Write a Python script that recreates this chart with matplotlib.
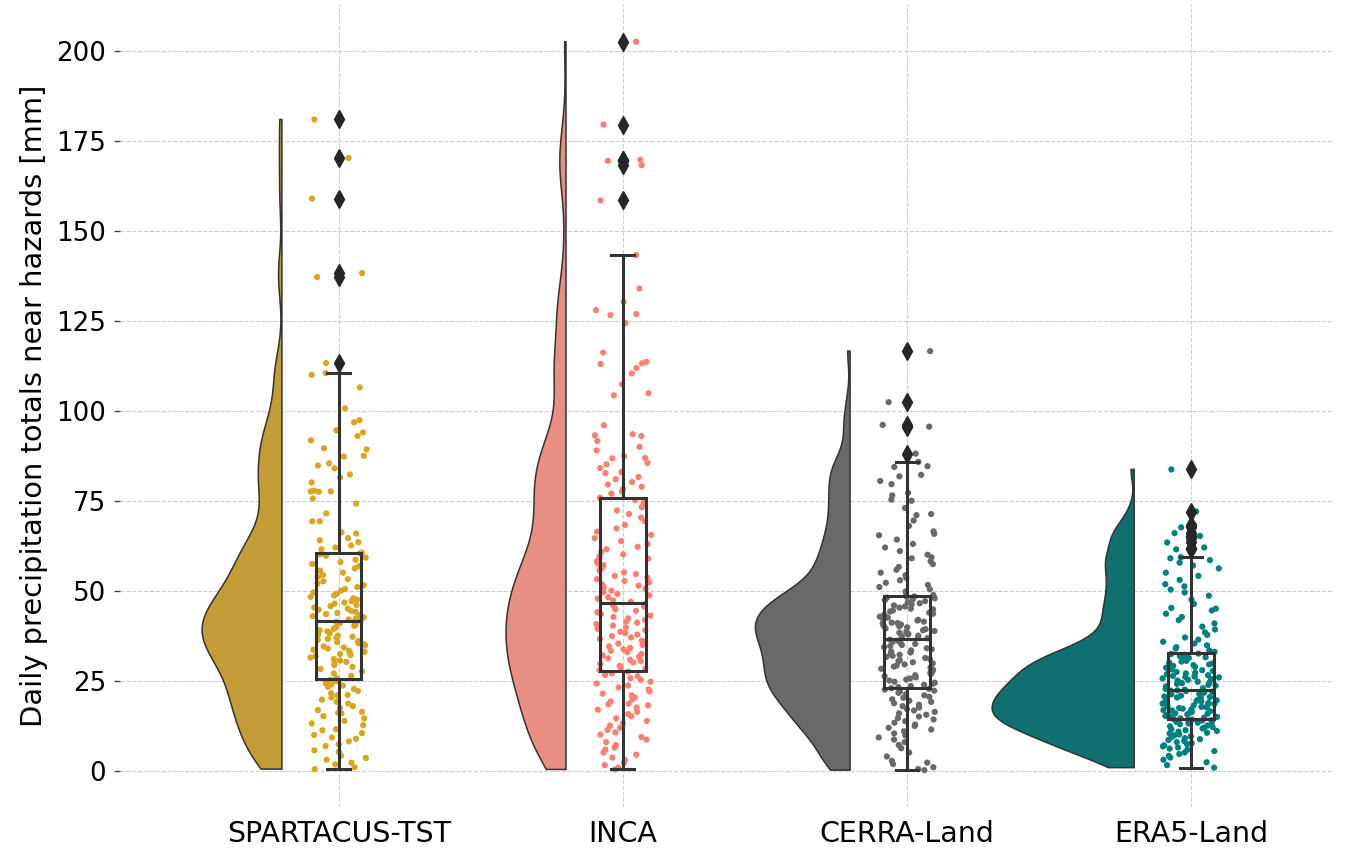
import numpy as np
import matplotlib
matplotlib.use("Agg")
import matplotlib.pyplot as plt
import seaborn as sns
import pandas as pd

categories = ["SPARTACUS-TST", "INCA", "CERRA-Land", "ERA5-Land"]

spartacus = [
    0.4, 0.9, 1.7, 2.2, 3.5, 4.1, 5.2, 5.6, 6.8, 7.3, 8.1, 8.8, 9.2, 9.9, 3.0,
    10.4, 11.2, 11.5, 12.6, 13.1, 13.8, 14.5, 15.1, 15.9, 16.3, 16.8, 17.4, 17.9, 18.6, 19.1, 19.7, 16.1,
    20.3, 20.9, 21.5, 22.1, 22.7, 23.3, 23.6, 24.2, 24.8, 25.2, 21.0, 23.9,
    25.7, 26.3, 27.0, 27.6, 28.2, 28.8, 29.3, 29.8, 30.2, 30.6, 31.0, 31.4, 31.8, 32.1, 32.4,
    32.7, 33.0, 33.3, 33.6, 33.9, 34.2, 34.5, 34.8, 35.1, 35.4, 35.7, 36.0, 36.3, 36.6, 36.9,
    37.2, 37.5, 37.8, 38.1, 38.4, 38.7, 39.0, 39.4, 39.8, 40.2, 40.6, 41.0, 41.3, 41.4,
    41.7, 42.0, 42.3, 42.6, 42.9, 43.2, 43.5, 43.8, 44.1, 44.4, 44.7, 45.0, 45.3, 45.7, 46.0,
    46.4, 46.7, 47.1, 47.5, 47.9, 48.3, 48.7, 49.1, 49.5, 50.0, 50.5, 51.0, 51.5, 52.0, 52.6,
    53.2, 53.8, 54.4, 55.0, 55.6, 56.2, 56.8, 57.4, 58.0, 58.6, 59.2, 59.7, 60.1, 60.4,
    60.6, 61.5, 62.0, 62.6, 63.5, 64.0, 64.6, 65.9, 66.2, 69.3, 69.3, 71.5, 74.2, 75.6, 77.6, 77.6,
    77.8, 77.5, 80.1, 81.5, 82.3, 84.0, 84.8, 85.4, 87.3, 87.5, 89.3, 89.6, 91.8, 93.0, 94.0, 94.6,
    96.8, 97.4, 100.7, 106.5, 110.0, 110.5,
    113.3, 137.2, 138.3, 159.0, 170.3, 181.0,
]

inca = [
    0.3, 0.8, 1.5, 2.1, 2.9, 3.6, 4.4, 5.0, 5.8, 6.4, 7.1, 7.9, 8.6, 9.3, 10.0, 10.6, 11.3, 11.9,
    12.5, 13.2, 13.8, 14.5, 15.1, 15.7, 16.3, 16.9, 17.5, 18.1, 18.6, 19.2, 19.8, 20.3, 20.9, 21.4,
    22.0, 22.5, 23.1, 23.6, 24.2, 24.7, 25.2, 25.7, 26.2, 26.6, 27.0, 18.4,
    27.5, 27.9, 28.3, 28.7, 29.1, 29.6, 30.0, 30.4, 30.8, 31.2, 31.6, 32.0, 32.4, 32.9, 33.3, 33.7,
    34.1, 34.5, 34.9, 35.3, 35.7, 36.1, 36.6, 37.0, 37.4, 37.8, 38.2, 38.6, 39.0, 39.4, 39.8, 40.3,
    40.7, 41.1, 41.5, 41.9, 42.3, 42.7, 43.1, 43.5, 44.0, 44.4, 44.8, 45.2, 45.6, 46.0,
    46.3, 46.9, 47.3, 47.8, 48.2, 48.7, 49.1, 49.6, 50.0, 50.5, 50.9, 51.4, 51.8, 52.3, 52.7, 53.2,
    53.6, 54.1, 54.6, 55.1, 55.6, 56.1, 56.6, 57.1, 57.7, 58.3, 58.9, 59.5, 60.1, 60.8, 61.5, 62.2,
    63.0, 63.8, 64.6, 65.5, 66.4, 67.3, 68.3, 69.3, 70.3, 71.3, 72.3, 73.2, 74.0, 74.5,
    75.2, 75.8, 77.0, 77.6, 78.3, 78.9, 79.5, 80.2, 81.0, 81.6, 82.7, 83.0, 84.1, 85.1, 85.5, 86.8,
    86.9, 87.4, 89.0, 90.0, 91.6, 93.0, 93.2, 93.5, 96.0, 104.3, 104.9, 107.4, 110.4, 111.9, 113.0,
    113.2, 113.6, 116.2, 124.4, 126.6, 126.9, 128.0, 130.3, 134.0, 143.3,
    158.5, 168.3, 169.5, 169.8, 169.6, 179.6, 202.6,
]

cerra = [
    0.1, 0.4, 0.9, 1.8, 2.7, 3.9, 5.0, 6.2, 7.1, 7.9, 8.6, 9.2, 9.8, 10.3, 10.9, 11.4, 11.9, 12.4,
    12.8, 13.3, 13.7, 14.2, 14.6, 15.0, 15.5, 15.9, 16.3, 16.7, 17.1, 17.5, 17.9, 18.3, 18.7, 19.1,
    19.4, 19.8, 20.2, 20.5, 20.9, 21.2, 21.6, 21.9, 22.2, 22.5, 22.7, 2.2,
    22.9, 23.2, 23.5, 23.8, 24.1, 24.4, 24.7, 25.0, 25.3, 25.6, 25.9, 26.2, 26.5, 26.8, 27.1, 27.4,
    27.7, 28.0, 28.3, 28.6, 28.9, 29.2, 29.5, 29.8, 30.1, 30.4, 30.7, 31.0, 31.3, 31.6, 31.9, 32.2,
    32.5, 32.8, 33.1, 33.4, 33.7, 34.0, 34.3, 34.6, 34.9, 35.2, 35.5, 35.8, 36.1, 36.4,
    36.8, 37.0, 37.3, 37.5, 37.8, 38.0, 38.3, 38.5, 38.8, 39.0, 39.3, 39.5, 39.8, 40.1, 40.3, 40.6,
    40.9, 41.1, 41.4, 41.7, 41.9, 42.2, 42.5, 42.8, 43.0, 43.3, 43.6, 43.9, 44.2, 44.5, 44.8, 45.0,
    45.3, 45.6, 45.9, 46.2, 46.5, 46.8, 47.1, 47.4, 47.6, 47.9, 48.1, 48.3, 48.4, 41.0,
    48.8, 49.3, 49.8, 50.4, 51.0, 51.6, 52.2, 52.9, 53.6, 54.3, 55.0, 55.8, 56.6, 57.4, 58.2, 59.0,
    59.3, 60.0, 61.0, 62.0, 63.0, 64.2, 65.4, 65.8, 66.5, 68.0, 69.5, 71.0, 71.3, 73.0, 75.0, 75.3,
    76.5, 77.2, 79.6, 80.5, 81.8, 82.2, 84.4, 84.6, 85.8,
    88.1, 95.6, 96.1, 102.4, 116.6,
]

era5 = [
    0.8, 1.5, 2.3, 3.0, 3.6, 4.1, 4.6, 5.0, 5.4, 5.8, 6.1, 6.4, 6.7, 7.0, 7.3, 7.6, 7.9, 8.2,
    8.5, 8.7, 9.0, 9.3, 9.5, 9.8, 10.0, 10.3, 10.5, 10.8, 11.0, 11.2, 11.5, 11.7, 11.9, 12.1,
    12.3, 12.5, 12.7, 12.9, 13.1, 13.3, 13.5, 13.7, 13.9, 14.0, 14.1, 14.15,
    14.3, 14.5, 14.7, 14.9, 15.0, 15.2, 15.4, 15.6, 15.8, 15.9, 16.1, 16.3, 16.5, 16.7, 16.8, 17.0,
    17.2, 17.4, 17.6, 17.7, 17.9, 18.1, 18.3, 18.5, 18.6, 18.8, 19.0, 19.2, 19.4, 19.5, 19.7, 19.9,
    20.1, 20.3, 20.4, 20.6, 20.8, 21.0, 21.2, 21.3, 21.5, 21.7, 21.9, 22.1, 22.2, 22.3,
    22.5, 22.7, 22.9, 23.2, 23.4, 23.6, 23.8, 24.1, 24.3, 24.5, 24.7, 25.0, 25.2, 25.4, 25.6, 25.9,
    26.1, 26.3, 26.5, 26.8, 27.0, 27.2, 27.4, 27.7, 27.9, 28.1, 28.4, 28.6, 28.8, 29.1, 29.3, 29.5,
    29.8, 30.0, 30.3, 30.5, 30.8, 31.0, 31.3, 31.5, 31.8, 32.0, 32.2, 32.4, 32.5, 26.0,
    33.0, 33.4, 33.9, 34.3, 34.8, 35.3, 35.8, 36.4, 37.0, 37.7, 38.4, 39.2, 40.0, 40.9, 41.8, 42.7,
    43.6, 44.5, 45.2, 46.3, 47.5, 48.6, 49.5, 50.3, 51.2, 51.8, 53.0, 54.1, 55.0, 56.2, 57.0, 57.8,
    58.5, 59.0, 59.3, 45.0,
    61.5, 62.0, 63.4, 64.6, 65.2, 66.0, 67.6, 68.3, 72.0, 83.7,
]

point_colors = ["#DAA520", "#FA8072", "#696969", "#008080"]
yticks = [0, 25, 50, 75, 100, 125, 150, 175, 200]
ylabel = "Daily precipitation totals near hazards [mm]"

series = [spartacus, inca, cerra, era5]
violin_colors = [sns.desaturate(c, 0.75) for c in point_colors]

fig = plt.figure(figsize=(13.51, 8.55), dpi=100)
ax = fig.add_axes([0.0888, 0.0561, 0.8979, 0.9392])

# half violins (gaussian KDE, bw factor 0.2, cut=0, area scaling)
grids, dens = [], []
for vals in series:
    v = np.asarray(vals, dtype=float)
    bw = 0.2 * v.std(ddof=1)
    g = np.linspace(v.min(), v.max(), 300)
    z = (g[:, None] - v[None, :]) / bw
    d = np.exp(-0.5 * z ** 2).sum(axis=1) / (len(v) * bw * np.sqrt(2 * np.pi))
    grids.append(g)
    dens.append(d)
gmax = max(d.max() for d in dens)
half_width = 0.5
offset = -0.2
for i, (g, d) in enumerate(zip(grids, dens)):
    w = d / gmax * half_width
    xs = np.concatenate([[i + offset], i + offset - w, [i + offset]])
    ys = np.concatenate([[g[0]], g, [g[-1]]])
    ax.fill(xs, ys, facecolor=violin_colors[i], edgecolor="#333333",
            linewidth=1.1, zorder=2)

# rain (jittered points; jitter is positional only)
np.random.seed(7)
df = pd.DataFrame({
    "cat": np.repeat(categories, [len(s) for s in series]),
    "val": np.concatenate([np.asarray(s, dtype=float) for s in series]),
})
sns.stripplot(data=df, x="cat", y="val", hue="cat", order=categories,
              hue_order=categories, palette=point_colors, jitter=0.1,
              size=4.5, linewidth=0, ax=ax, legend=False, zorder=2)

# boxes
lc = "#333333"
ax.boxplot(series, positions=range(len(series)), widths=0.16, whis=1.5,
           manage_ticks=False, patch_artist=True,
           boxprops=dict(facecolor="none", edgecolor=lc, linewidth=2.2),
           whiskerprops=dict(color=lc, linewidth=2.2),
           capprops=dict(color=lc, linewidth=2.2),
           medianprops=dict(color=lc, linewidth=2.2),
           flierprops=dict(marker="d", markerfacecolor="#262626",
                           markeredgecolor="#262626", markersize=9),
           zorder=4)

ax.set_xlim(-0.77, 3.5)
ax.set_ylim(-10.15, 213.1)
ax.set_xticks(range(len(categories)))
ax.set_xticklabels(categories)
ax.set_yticks(yticks)
ax.set_xlabel("")
ax.set_ylabel(ylabel, fontsize=20.8, labelpad=6)
ax.tick_params(axis="x", length=0, pad=9, labelsize=20.5)
ax.tick_params(axis="y", length=4, width=1, color="#444444", pad=6, labelsize=18.8)
ax.grid(True, linestyle="--", color="#cccccc", linewidth=0.8)
ax.set_axisbelow(True)
for s in ax.spines.values():
    s.set_visible(False)

fig.savefig("out.png", dpi=100)
